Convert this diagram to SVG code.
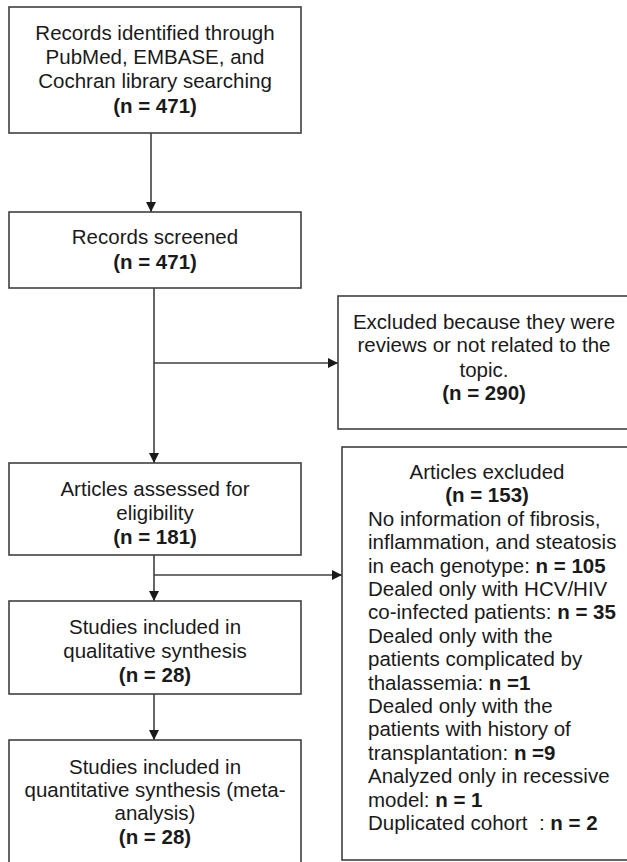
<svg xmlns="http://www.w3.org/2000/svg" width="627" height="862" viewBox="0 0 627 862">
<style>
.box{fill:#ffffff;stroke:#404040;stroke-width:1.6}
.t{font-family:"Liberation Sans",Arial,sans-serif;font-size:20.5px;fill:#1a1a1a}
.c{text-anchor:middle}
.b{font-weight:bold}
.ln{stroke:#404040;stroke-width:1.6;fill:none}
</style>
<defs>
<marker id="ah" viewBox="0 0 10 10" refX="10" refY="5" markerWidth="10" markerHeight="10" markerUnits="userSpaceOnUse" orient="auto">
<path d="M0,0 L10,5 L0,10 Z" fill="#1a1a1a"/>
</marker>
</defs>
<rect width="627" height="862" fill="#ffffff"/>
<g id="connectors">
<line class="ln" x1="151" y1="133" x2="151" y2="212" marker-end="url(#ah)"/>
<line class="ln" x1="154" y1="288" x2="154" y2="463" marker-end="url(#ah)"/>
<line class="ln" x1="154" y1="363" x2="338" y2="363" marker-end="url(#ah)"/>
<line class="ln" x1="154" y1="555" x2="154" y2="601" marker-end="url(#ah)"/>
<line class="ln" x1="154" y1="575" x2="342" y2="575" marker-end="url(#ah)"/>
<line class="ln" x1="154" y1="694" x2="154" y2="740" marker-end="url(#ah)"/>
</g>
<g id="identified">
<rect class="box" x="9" y="7" width="292" height="126"/>
<text class="t c" x="155" y="40">Records identified through</text>
<text class="t c" x="155" y="64">PubMed, EMBASE, and</text>
<text class="t c" x="155" y="88">Cochran library searching</text>
<text class="t c b" x="155" y="113">(n = 471)</text>
</g>
<g id="screened">
<rect class="box" x="9" y="212" width="292" height="76"/>
<text class="t c" x="155" y="244">Records screened</text>
<text class="t c b" x="155" y="269">(n = 471)</text>
</g>
<g id="excluded1">
<rect class="box" x="338" y="296" width="310" height="133"/>
<text class="t c" x="484" y="329">Excluded because they were</text>
<text class="t c" x="484" y="352">reviews or not related to the</text>
<text class="t c" x="484" y="377">topic.</text>
<text class="t c b" x="484" y="400">(n = 290)</text>
</g>
<g id="assessed">
<rect class="box" x="9" y="463" width="292" height="92"/>
<text class="t c" x="155" y="496">Articles assessed for</text>
<text class="t c" x="155" y="520">eligibility</text>
<text class="t c b" x="155" y="544">(n = 181)</text>
</g>
<g id="excluded2">
<rect class="box" x="342" y="447" width="310" height="413"/>
<text class="t c" x="487" y="479">Articles excluded</text>
<text class="t c b" x="487" y="502.4">(n = 153)</text>
<text class="t" x="368" y="525.8">No information of fibrosis,</text>
<text class="t" x="368" y="549.2">inflammation, and steatosis</text>
<text class="t" x="368" y="572.6">in each genotype: <tspan class="b">n = 105</tspan></text>
<text class="t" x="368" y="596">Dealed only with HCV/HIV</text>
<text class="t" x="368" y="619.4">co-infected patients: <tspan class="b">n = 35</tspan></text>
<text class="t" x="368" y="642.8">Dealed only with the</text>
<text class="t" x="368" y="666.2">patients complicated by</text>
<text class="t" x="368" y="689.6">thalassemia: <tspan class="b">n =1</tspan></text>
<text class="t" x="368" y="713">Dealed only with the</text>
<text class="t" x="368" y="736.4">patients with history of</text>
<text class="t" x="368" y="759.8">transplantation: <tspan class="b">n =9</tspan></text>
<text class="t" x="368" y="783.2">Analyzed only in recessive</text>
<text class="t" x="368" y="806.6">model: <tspan class="b">n = 1</tspan></text>
<text class="t" x="368" y="830">Duplicated cohort&#160; : <tspan class="b">n = 2</tspan></text>
</g>
<g id="qualitative">
<rect class="box" x="9" y="601" width="292" height="93"/>
<text class="t c" x="155" y="634">Studies included in</text>
<text class="t c" x="155" y="658">qualitative synthesis</text>
<text class="t c b" x="155" y="682">(n = 28)</text>
</g>
<g id="quantitative">
<rect class="box" x="9" y="740" width="292" height="140"/>
<text class="t c" x="155" y="774">Studies included in</text>
<text class="t c" x="155" y="797">quantitative synthesis (meta-</text>
<text class="t c" x="155" y="820">analysis)</text>
<text class="t c b" x="155" y="844">(n = 28)</text>
</g>
</svg>
